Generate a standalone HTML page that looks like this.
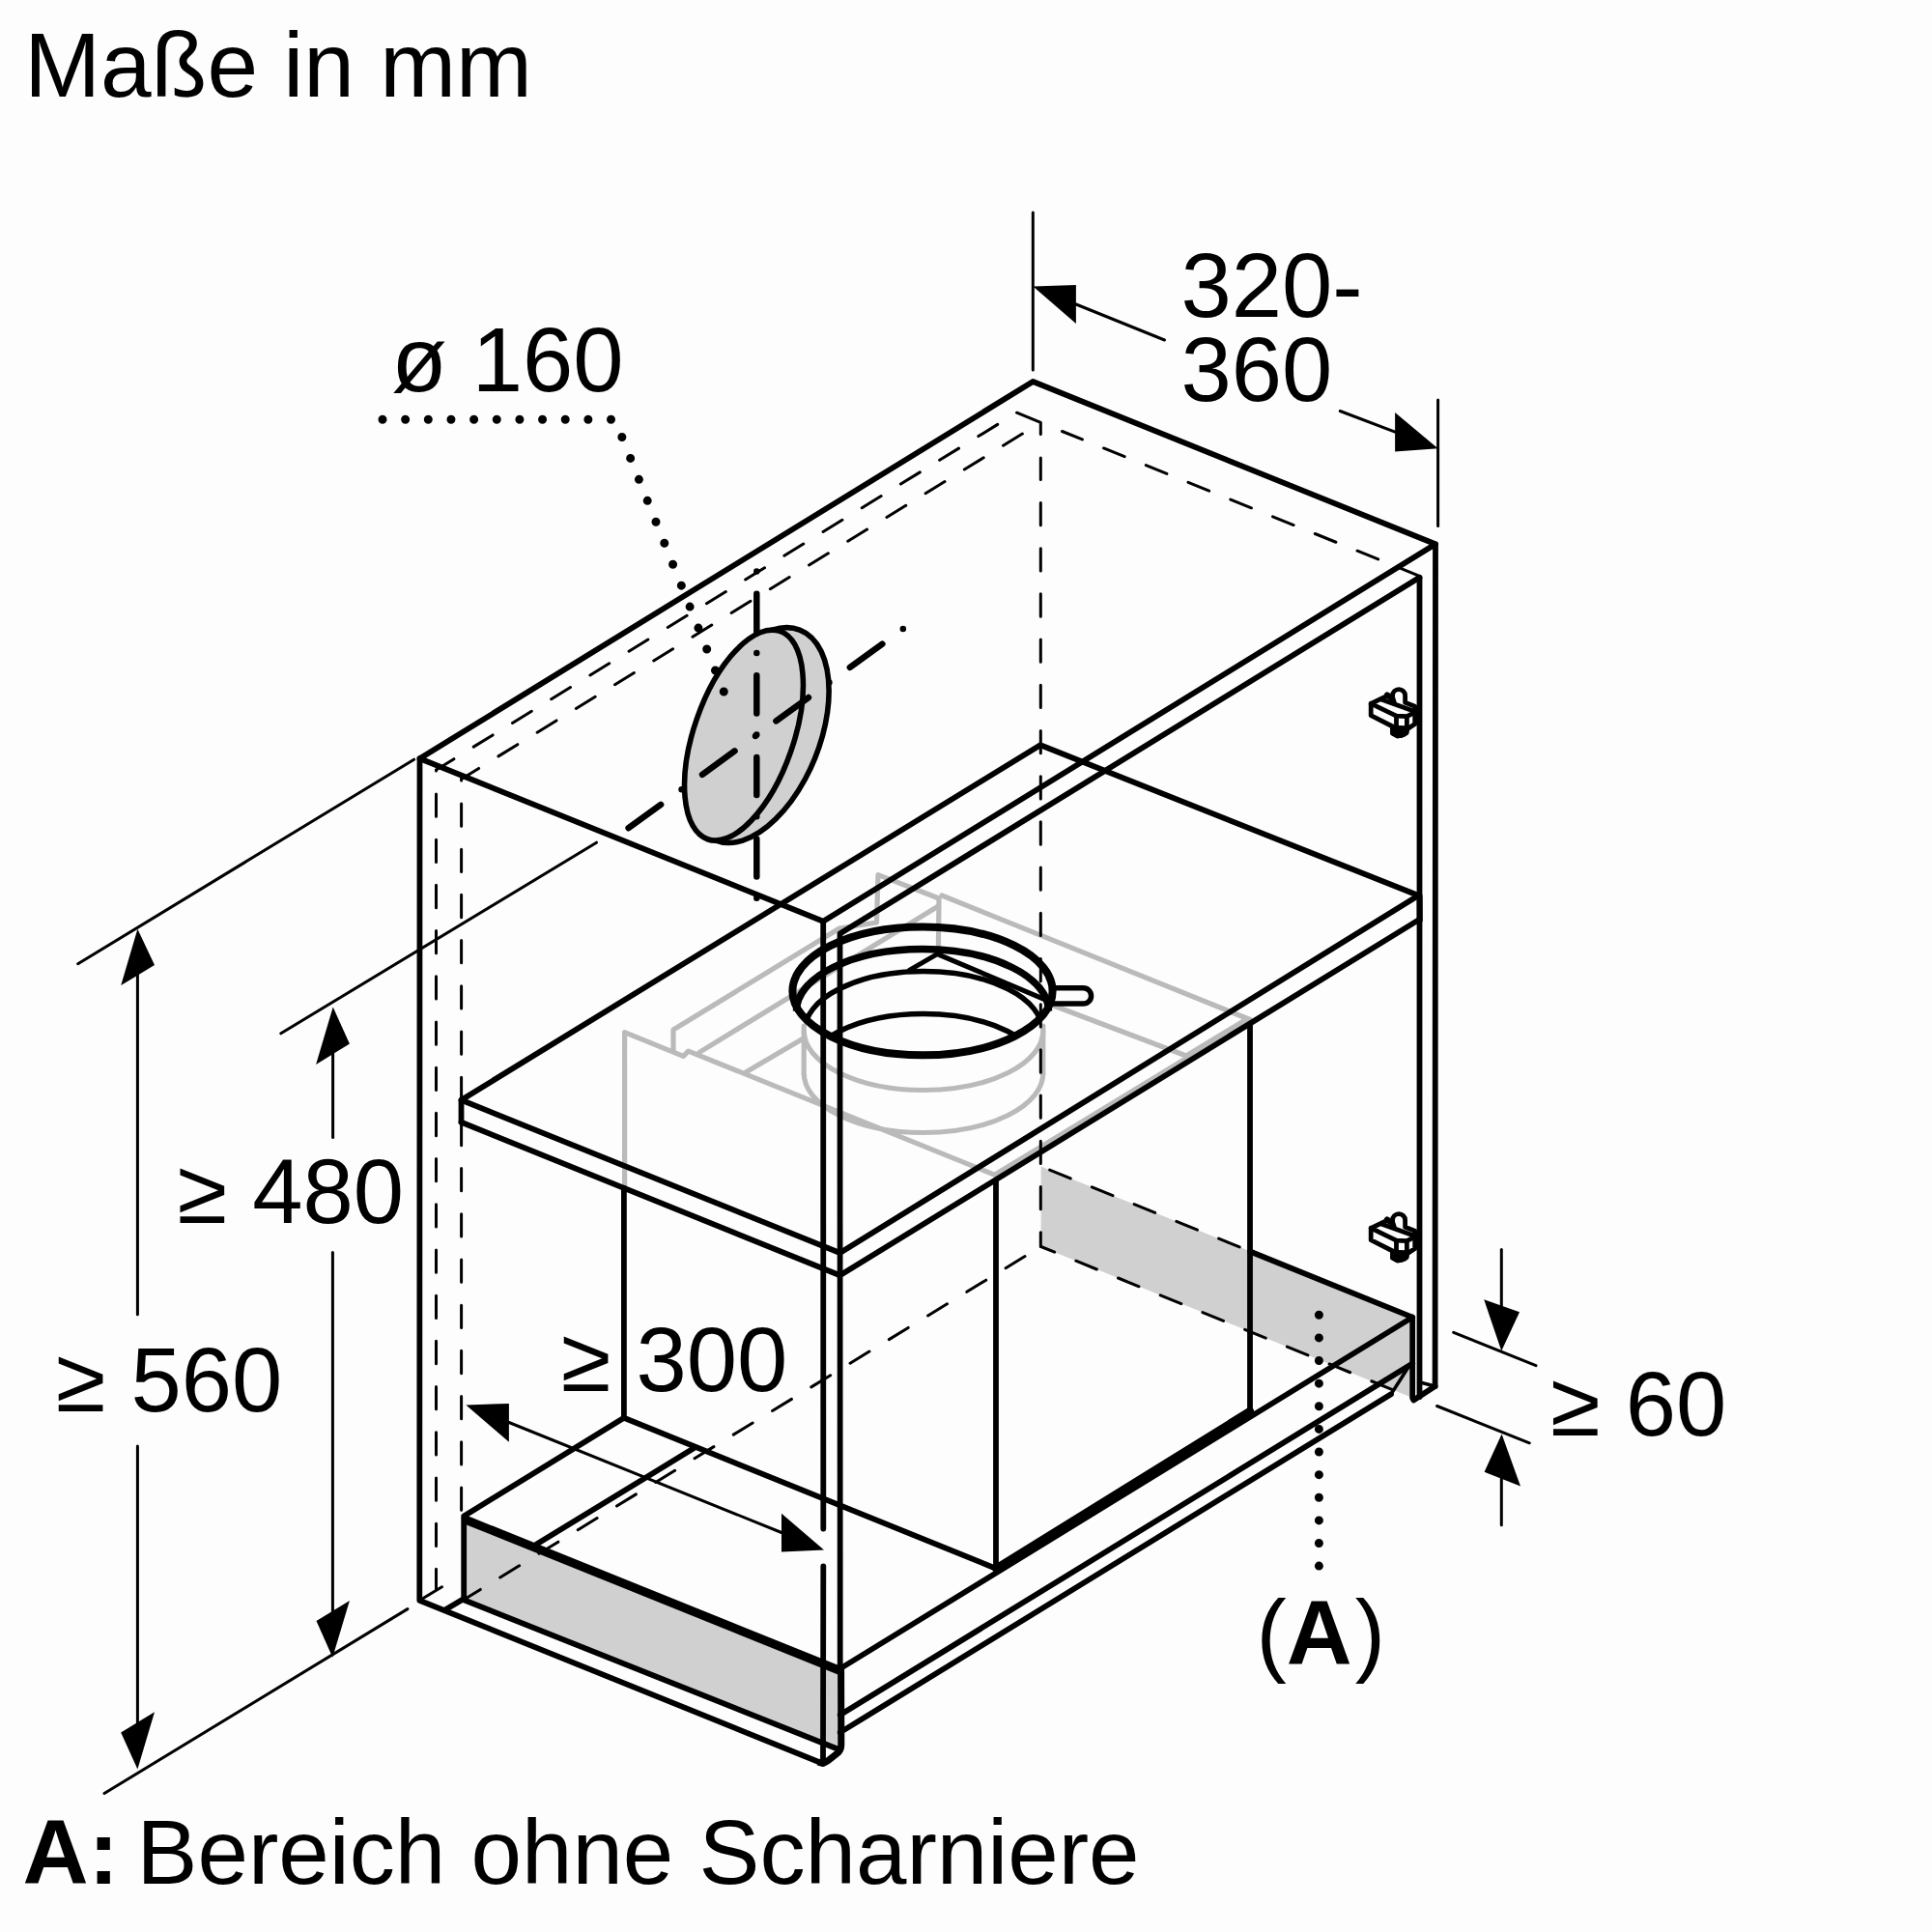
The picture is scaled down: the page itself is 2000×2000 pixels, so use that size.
<!DOCTYPE html>
<html><head><meta charset="utf-8"><title>Maße in mm</title>
<style>html,body{margin:0;padding:0;background:#fdfdfd}svg{display:block;font-family:"Liberation Sans",sans-serif}</style>
</head><body>
<svg width="2000" height="2000" viewBox="0 0 2000 2000">
<rect width="2000" height="2000" fill="#fdfdfd"/>
<polygon points="480.2,1570.0 869.7,1727.4 869.7,1811.0 480.2,1656.2" fill="#d0d0d0" />
<polygon points="1077.6,1207.5 1462.2,1363.6 1462.2,1447.0 1077.6,1290.5" fill="#d0d0d0" />
<path d="M646.6,1230.0 L646.6,1068.7 L707.4,1093.3 L712.6,1088.1 L1029.6,1216.2 L1100.0,1173.5 L1294.0,1055.5" fill="none" stroke="#bababa" stroke-width="5.2" stroke-linecap="round" stroke-linejoin="round" />
<path d="M697.0,1088.0 L697.0,1066.0 L869.0,961.0 L907.5,955.0 L909.0,905.6 L972.0,930.0 L971.4,982.0" fill="none" stroke="#bababa" stroke-width="5.2" stroke-linecap="round" stroke-linejoin="round" />
<path d="M975.0,927.0 L1294.0,1055.5" fill="none" stroke="#bababa" stroke-width="5.2" stroke-linecap="round" stroke-linejoin="round" />
<path d="M1090.0,1040.8 L1228.0,1093.0 L1290.0,1055.5" fill="none" stroke="#bababa" stroke-width="5.2" stroke-linecap="round" stroke-linejoin="round" />
<path d="M971.4,938.0 L724.0,1089.4" fill="none" stroke="#bababa" stroke-width="5.2" stroke-linecap="round" stroke-linejoin="round" />
<path d="M772.0,1110.0 L831.6,1075.0" fill="none" stroke="#bababa" stroke-width="5.2" stroke-linecap="round" stroke-linejoin="round" />
<path d="M832.2,1062.0 L832.2,1111.0" fill="none" stroke="#bababa" stroke-width="5.2" stroke-linecap="round" stroke-linejoin="round" />
<path d="M1079.8,1062.0 L1079.8,1111.0" fill="none" stroke="#bababa" stroke-width="5.2" stroke-linecap="round" stroke-linejoin="round" />
<path d="M832.2,1111 A123.8,61.5 0 0 0 1079.8,1111" fill="none" stroke="#bababa" stroke-width="5.2"/>
<path d="M832.2,1067 A123.8,61.5 0 0 0 1079.8,1067" fill="none" stroke="#bababa" stroke-width="5.2"/>
<path d="M1052.5,427.2 L451.5,797.0" fill="none" stroke="#000" stroke-width="3.0" stroke-linecap="round" stroke-linejoin="round" stroke-dasharray="23.3 23.9" stroke-dashoffset="23.95"/>
<path d="M1077.3,437.4 L477.6,806.5" fill="none" stroke="#000" stroke-width="3.0" stroke-linecap="round" stroke-linejoin="round" stroke-dasharray="23.3 23.9" stroke-dashoffset="24.95"/>
<path d="M1052.5,427.2 L1077.3,437.4 L1077.3,449.4" fill="none" stroke="#000" stroke-width="3.0" stroke-linecap="round" stroke-linejoin="round" />
<path d="M1077.3,474.0 L1077.3,1290.5" fill="none" stroke="#000" stroke-width="3.0" stroke-linecap="round" stroke-linejoin="round" stroke-dasharray="23.3 23.9" stroke-dashoffset="0.75"/>
<path d="M1099.5,446.5 L1469.5,596.3" fill="none" stroke="#000" stroke-width="3.0" stroke-linecap="round" stroke-linejoin="round" stroke-dasharray="23.3 23.9" stroke-dashoffset="0.75"/>
<path d="M451.5,797.0 L451.5,1645.0" fill="none" stroke="#000" stroke-width="3.0" stroke-linecap="round" stroke-linejoin="round" stroke-dasharray="23.3 23.9" stroke-dashoffset="22.25"/>
<path d="M477.6,806.5 L477.6,1570.0" fill="none" stroke="#000" stroke-width="3.0" stroke-linecap="round" stroke-linejoin="round" stroke-dasharray="23.3 23.9" stroke-dashoffset="21.75"/>
<path d="M1077.4,1290.5 L477.6,1657.5" fill="none" stroke="#000" stroke-width="3.0" stroke-linecap="round" stroke-linejoin="round" stroke-dasharray="23.3 23.9" stroke-dashoffset="-19.25"/>
<path d="M1077.6,1207.5 L1294.0,1295.3" fill="none" stroke="#000" stroke-width="3.0" stroke-linecap="round" stroke-linejoin="round" stroke-dasharray="23.3 23.9" stroke-dashoffset="-9.75"/>
<path d="M1077.6,1290.5 L1462.2,1447.0" fill="none" stroke="#000" stroke-width="3.0" stroke-linecap="round" stroke-linejoin="round" stroke-dasharray="23.3 23.9" stroke-dashoffset="8.15"/>
<path d="M434.5,785.2 L1069.3,395.0 L1486.0,563.3 L852.2,953.8 L434.5,785.2 L1069.3,395.0" fill="none" stroke="#000" stroke-width="5.8" stroke-linecap="round" stroke-linejoin="round" />
<path d="M434.5,785.2 L434.3,1656.7 L852.0,1825.7" fill="none" stroke="#000" stroke-width="5.8" stroke-linecap="round" stroke-linejoin="round" />
<path d="M852.2,953.8 L852.3,1582.5" fill="none" stroke="#000" stroke-width="5.8" stroke-linecap="round" stroke-linejoin="round" />
<path d="M852.3,1621.3 L852.0,1825.7" fill="none" stroke="#000" stroke-width="5.8" stroke-linecap="round" stroke-linejoin="round" />
<path d="M1486.0,563.3 L1485.6,1435.0" fill="none" stroke="#000" stroke-width="5.8" stroke-linecap="round" stroke-linejoin="round" />
<path d="M1469.5,597.8 L1469.5,1446.0" fill="none" stroke="#000" stroke-width="5.8" stroke-linecap="round" stroke-linejoin="round" />
<path d="M869.7,1727.0 L869.5,966.5 L1469.5,597.8" fill="none" stroke="#000" stroke-width="5.8" stroke-linecap="round" stroke-linejoin="round" />
<path d="M870.6,1727 L870.8,1806 Q870.8,1812 866.5,1815.3 L857,1822.8 Q852.5,1826.3 847,1824" fill="none" stroke="#000" stroke-width="7" stroke-linejoin="round"/>
<path d="M1485.6,1435.0 L1463.3,1449.5" fill="none" stroke="#000" stroke-width="5.8" stroke-linecap="round" stroke-linejoin="round" />
<path d="M1470.0,1431.0 L1485.6,1435.0" fill="none" stroke="#000" stroke-width="3.5" stroke-linecap="round" stroke-linejoin="round" />
<path d="M477.5,1161.7 L477.5,1138.7 L1077.0,771.2 L1468.4,927.0" fill="none" stroke="#000" stroke-width="5.8" stroke-linecap="round" stroke-linejoin="round" />
<path d="M477.5,1138.7 L869.5,1297.0 L1468.4,927.0" fill="none" stroke="#000" stroke-width="5.8" stroke-linecap="round" stroke-linejoin="round" />
<path d="M477.5,1161.7 L869.5,1320.3 L1468.4,952.4" fill="none" stroke="#000" stroke-width="5.8" stroke-linecap="round" stroke-linejoin="round" />
<path d="M1469.6,927.5 L1469.8,952.4" fill="none" stroke="#000" stroke-width="6" stroke-linecap="round" stroke-linejoin="round" />
<path d="M645.9,1230.0 L645.9,1467.8 L1031.0,1623.7" fill="none" stroke="#000" stroke-width="5.8" stroke-linecap="round" stroke-linejoin="round" />
<path d="M645.9,1467.8 L480.2,1569.5 L480.2,1656.2" fill="none" stroke="#000" stroke-width="5.8" stroke-linecap="round" stroke-linejoin="round" />
<path d="M1031.0,1223.0 L1031.0,1623.7" fill="none" stroke="#000" stroke-width="5.8" stroke-linecap="round" stroke-linejoin="round" />
<path d="M1294.0,1062.0 L1294.0,1460.7" fill="none" stroke="#000" stroke-width="5.8" stroke-linecap="round" stroke-linejoin="round" />
<path d="M1031.0,1623.7 L1294.0,1460.7" fill="none" stroke="#000" stroke-width="8" stroke-linecap="round" stroke-linejoin="round" />
<path d="M555.5,1598.6 L719.3,1498.6" fill="none" stroke="#000" stroke-width="5.8" stroke-linecap="round" stroke-linejoin="round" />
<path d="M480.2,1572.5 L869.7,1729.5" fill="none" stroke="#000" stroke-width="9" stroke-linecap="butt" stroke-linejoin="round" />
<path d="M480.2,1656.2 L869.5,1811.5" fill="none" stroke="#000" stroke-width="5.8" stroke-linecap="round" stroke-linejoin="round" />
<path d="M460.8,1666.6 L480.2,1654.9" fill="none" stroke="#000" stroke-width="5.8" stroke-linecap="round" stroke-linejoin="round" />
<path d="M434.3,1656.7 L457.5,1642.8" fill="none" stroke="#000" stroke-width="3.0" stroke-linecap="round" stroke-linejoin="round" />
<path d="M869.7,1727.4 L1462.2,1363.6" fill="none" stroke="#000" stroke-width="5.8" stroke-linecap="round" stroke-linejoin="round" />
<path d="M869.7,1775.3 L1462.2,1411.5" fill="none" stroke="#000" stroke-width="5.8" stroke-linecap="round" stroke-linejoin="round" />
<path d="M869.7,1793.4 L1440.0,1443.3" fill="none" stroke="#000" stroke-width="5.8" stroke-linecap="round" stroke-linejoin="round" />
<path d="M1440.0,1443.3 L1460.0,1412.0" fill="none" stroke="#000" stroke-width="3.5" stroke-linecap="round" stroke-linejoin="round" />
<path d="M1294.0,1295.5 L1462.2,1363.6 L1462.2,1447.0" fill="none" stroke="#000" stroke-width="5.8" stroke-linecap="round" stroke-linejoin="round" />
<path d="M799.5,652.2 A117.4,63.9 -68 1 1 740.5,870 Z" fill="#d0d0d0" stroke="#000" stroke-width="5.6" stroke-linejoin="round"/>
<ellipse cx="770.0" cy="761.1" rx="114" ry="51.5" transform="rotate(-70.8 770.0 761.1)" fill="#d0d0d0" stroke="#000" stroke-width="5.6"/>
<ellipse cx="955" cy="1025.9" rx="134.6" ry="66.4" fill="none" stroke="#000" stroke-width="8"/>
<path d="M824.5,1046.5 A130.5,64 0 0 1 1085.5,1046.5" fill="none" stroke="#000" stroke-width="7.5"/>
<clipPath id="cpr"><ellipse cx="955" cy="1025.9" rx="134.6" ry="66.4"/></clipPath>
<g clip-path="url(#cpr)"><path d="M833,1067 A123,61.5 0 0 1 1079,1067" fill="none" stroke="#000" stroke-width="5.5"/>
<path d="M833,1111 A123,61.5 0 0 1 1079,1111" fill="none" stroke="#000" stroke-width="5.5"/></g>
<path d="M941.3,1004.3 L970.3,987.6 L1082.6,1035.1" fill="none" stroke="#000" stroke-width="5" stroke-linecap="round" stroke-linejoin="round" />
<path d="M1091.7,1022.8 H1121.5 a8.1,8.1 0 0 1 0,16.2 H1089" fill="none" stroke="#000" stroke-width="5.5"/>
<path d="M783.3,591.4 L783.3,931.0" fill="none" stroke="#000" stroke-width="6.5" stroke-linecap="round" stroke-linejoin="round" stroke-dasharray="0 23.3 39.1 22.2"/>
<path d="M650.6,857.2 L935.6,650.5" fill="none" stroke="#000" stroke-width="6.5" stroke-linecap="round" stroke-linejoin="round" stroke-dasharray="41.4 26.5 0 26.5"/>
<path d="M396.0,434.3 L636.6,434.3 L749.7,717.0" fill="none" stroke="#000" stroke-width="9" stroke-linecap="round" stroke-linejoin="round" stroke-dasharray="0 23.65"/>
<path d="M1365.4,1361.3 L1365.4,1622.0" fill="none" stroke="#000" stroke-width="9" stroke-linecap="round" stroke-linejoin="round" stroke-dasharray="0 23.62"/>
<path d="M1069.3,220.0 L1069.3,383.0" fill="none" stroke="#000" stroke-width="3.0" stroke-linecap="round" stroke-linejoin="round" />
<path d="M1488.6,414.0 L1488.6,544.5" fill="none" stroke="#000" stroke-width="3.0" stroke-linecap="round" stroke-linejoin="round" />
<path d="M1113.9,315.0 L1205.5,352.0" fill="none" stroke="#000" stroke-width="3.0" stroke-linecap="round" stroke-linejoin="round" />
<path d="M1387.2,425.5 L1444.1,447.2" fill="none" stroke="#000" stroke-width="3.0" stroke-linecap="round" stroke-linejoin="round" />
<polygon points="1069.4,296.6 1113.9,295.0 1113.9,334.9" fill="#000" />
<polygon points="1488.6,464.3 1444.1,427.0 1444.1,467.4" fill="#000" />
<path d="M80.7,997.7 L428.6,786.2" fill="none" stroke="#000" stroke-width="3.0" stroke-linecap="round" stroke-linejoin="round" />
<path d="M108.0,1856.5 L421.9,1665.6" fill="none" stroke="#000" stroke-width="3.0" stroke-linecap="round" stroke-linejoin="round" />
<path d="M142.4,1000.0 L142.4,1360.8" fill="none" stroke="#000" stroke-width="3.0" stroke-linecap="round" stroke-linejoin="round" />
<path d="M142.4,1496.9 L142.4,1790.0" fill="none" stroke="#000" stroke-width="3.0" stroke-linecap="round" stroke-linejoin="round" />
<polygon points="142.4,961.7 125.2,1020.1 160.0,999.0" fill="#000" />
<polygon points="142.4,1831.6 125.2,1793.5 160.0,1772.2" fill="#000" />
<path d="M290.8,1069.8 L617.5,872.2" fill="none" stroke="#000" stroke-width="3.0" stroke-linecap="round" stroke-linejoin="round" />
<path d="M344.6,1085.0 L344.6,1177.4" fill="none" stroke="#000" stroke-width="3.0" stroke-linecap="round" stroke-linejoin="round" />
<path d="M344.4,1296.6 L344.4,1670.0" fill="none" stroke="#000" stroke-width="3.0" stroke-linecap="round" stroke-linejoin="round" />
<polygon points="344.7,1042.4 327.1,1101.9 361.9,1080.5" fill="#000" />
<polygon points="344.3,1715.7 327.5,1678.0 361.9,1656.9" fill="#000" />
<path d="M526.9,1472.5 L809.0,1586.5" fill="none" stroke="#000" stroke-width="3.0" stroke-linecap="round" stroke-linejoin="round" />
<polygon points="482.4,1454.5 526.9,1452.9 526.9,1492.8" fill="#000" />
<polygon points="853.0,1604.6 809.0,1566.8 809.0,1606.6" fill="#000" />
<path d="M1554.3,1293.5 L1554.3,1360.0" fill="none" stroke="#000" stroke-width="3.0" stroke-linecap="round" stroke-linejoin="round" />
<path d="M1554.3,1520.0 L1554.3,1578.7" fill="none" stroke="#000" stroke-width="3.0" stroke-linecap="round" stroke-linejoin="round" />
<polygon points="1554.3,1398.6 1536.2,1345.2 1573.0,1358.2" fill="#000" />
<polygon points="1554.6,1484.5 1536.6,1523.8 1574.0,1538.5" fill="#000" />
<path d="M1504.7,1379.4 L1590.0,1413.6" fill="none" stroke="#000" stroke-width="3.0" stroke-linecap="round" stroke-linejoin="round" />
<path d="M1487.6,1455.5 L1583.3,1493.8" fill="none" stroke="#000" stroke-width="3.0" stroke-linecap="round" stroke-linejoin="round" />
<g transform="translate(0,0)" fill="none" stroke="#000" stroke-width="4.8" stroke-linejoin="round" stroke-linecap="round"><path d="M1419.2,728.3 L1430.5,723 L1435.5,720.6 L1441.6,723 V720 A6.5,6.3 0 0 1 1454.6,720 L1454.6,727.3 L1464.7,731.2 L1464.7,749.5 L1456.8,754.8 L1456,758.5 Q1451.5,762 1446.6,761.8 L1441.6,759.2 L1441.6,752 L1419.2,740.7 Z" fill="#fdfdfd"/><path d="M1441.6,753 L1456.4,754.5 L1456,758.5 Q1451.5,762 1446.6,761.8 L1441.6,759.2 Z" fill="#000"/><path d="M1419.2,728.3 L1445.5,741.2 L1456.4,741.6 L1464.7,737.3"/><path d="M1430.5,724.2 L1464.7,736.4"/><path d="M1445.5,741.2 V753.7 H1456.4 V741.6"/><path d="M1436,719.5 L1441.2,722.8 L1442.5,727" stroke-width="6.2"/></g>
<g transform="translate(0,543)" fill="none" stroke="#000" stroke-width="4.8" stroke-linejoin="round" stroke-linecap="round"><path d="M1419.2,728.3 L1430.5,723 L1435.5,720.6 L1441.6,723 V720 A6.5,6.3 0 0 1 1454.6,720 L1454.6,727.3 L1464.7,731.2 L1464.7,749.5 L1456.8,754.8 L1456,758.5 Q1451.5,762 1446.6,761.8 L1441.6,759.2 L1441.6,752 L1419.2,740.7 Z" fill="#fdfdfd"/><path d="M1441.6,753 L1456.4,754.5 L1456,758.5 Q1451.5,762 1446.6,761.8 L1441.6,759.2 Z" fill="#000"/><path d="M1419.2,728.3 L1445.5,741.2 L1456.4,741.6 L1464.7,737.3"/><path d="M1430.5,724.2 L1464.7,736.4"/><path d="M1445.5,741.2 V753.7 H1456.4 V741.6"/><path d="M1436,719.5 L1441.2,722.8 L1442.5,727" stroke-width="6.2"/></g>
<text x="25.2" y="100.3" font-size="94.6" >Maße in mm</text>
<text x="405.2" y="405.3" font-size="94" >ø 160</text>
<text x="1222.5" y="328.2" font-size="94" >320-</text>
<text x="1222.5" y="415.2" font-size="94" >360</text>
<text x="183.5" y="1265.8" font-size="94" >≥ 480</text>
<text x="57.8" y="1460.8" font-size="94" >≥ 560</text>
<text x="580.8" y="1440.4" font-size="94" >≥ 300</text>
<text x="1605" y="1485.5" font-size="94" >≥ 60</text>
<text x="1300.5" y="1723" font-size="94" >(<tspan font-weight="bold">A</tspan><tspan dx="3">)</tspan></text>
<text x="23.5" y="1949.8" font-size="94.3" ><tspan font-weight="bold">A:</tspan><tspan dx="-7.6"> Bereich ohne Scharniere</tspan></text>
</svg>
</body></html>
